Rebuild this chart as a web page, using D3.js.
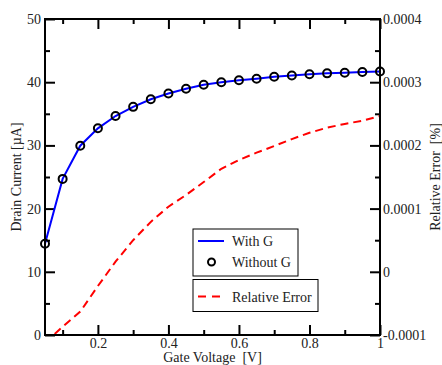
<!DOCTYPE html>
<html>
<head>
<meta charset="utf-8">
<script src="https://cdn.jsdelivr.net/npm/d3@7"></script>
<style>
  body { margin: 0; background: #fff; }
  svg { display: block; }
  svg text { font-family: "Liberation Serif", "Times New Roman", Times, "DejaVu Serif", serif; }
  .tick-label { font-size: 14px; fill: #222; }
  .title { font-size: 14px; fill: #222; }
</style>
</head>
<body>
<div id="chart"></div>
<script>
// gate voltage sweep
const gateVoltage = [0.05, 0.1, 0.15, 0.2, 0.25, 0.3, 0.35, 0.4, 0.45, 0.5,
  0.55, 0.6, 0.65, 0.7, 0.75, 0.8, 0.85, 0.9, 0.95, 1.0];
const currentWithG = [14.45, 24.7, 29.95, 32.7, 34.65, 36.1, 37.3, 38.2, 38.95, 39.6,
  40.0, 40.3, 40.55, 40.85, 41.05, 41.25, 41.4, 41.5, 41.6, 41.7];
const currentWithoutG = currentWithG.slice();
const relativeError = [-0.000112, -0.000087, -0.000063, -0.0000225, 0.000016, 0.00005, 0.000079, 0.000103, 0.0001215, 0.000142,
  0.000163, 0.000177, 0.0001885, 0.000199, 0.00021, 0.00022, 0.000228, 0.000234, 0.000239, 0.0002465];

const xTicks = [0.2, 0.4, 0.6, 0.8, 1];
const xMinor = [0.1, 0.3, 0.5, 0.7, 0.9];
const yTicks = [0, 10, 20, 30, 40, 50];
const yMinor = [5, 15, 25, 35, 45];
const y2Ticks = [-0.0001, 0, 0.0001, 0.0002, 0.0003, 0.0004];
const y2Minor = [-0.00005, 0.00005, 0.00015, 0.00025, 0.00035];
const y2Labels = ['-0.0001', '0', '0.0001', '0.0002', '0.0003', '0.0004'];

const SERIF = 'Liberation Serif, Times New Roman, DejaVu Serif, serif';
const W = 442, H = 365;
const margin = { top: 19, right: 62, bottom: 30, left: 45 };
const width = W - margin.left - margin.right;
const height = H - margin.top - margin.bottom;

const svg = d3.select('#chart').append('svg')
  .attr('width', W)
  .attr('height', H)
  .attr('font-family', SERIF);

const g = svg.append('g')
  .attr('transform', `translate(${margin.left}, ${margin.top})`);

const x = d3.scaleLinear().domain([0.05, 1]).range([0, width]);
const y = d3.scaleLinear().domain([0, 50]).range([height, 0]);
const y2 = d3.scaleLinear().domain([-0.0001, 0.0004]).range([height, 0]);

g.append('clipPath').attr('id', 'clip')
  .append('rect').attr('width', width).attr('height', height);

// axes with inward ticks, mirrored on the opposite side
function styleAxis(sel) {
  sel.attr('font-family', SERIF).attr('font-size', 14);
  sel.select('.domain').remove();
  sel.selectAll('.tick line').attr('stroke', '#000').attr('stroke-width', 2);
  sel.selectAll('.tick text').attr('class', 'tick-label').attr('fill', '#222');
}

g.append('g').attr('transform', `translate(0, ${height})`)
  .call(d3.axisBottom(x).tickValues(xTicks).tickSizeInner(-10).tickSizeOuter(0).tickPadding(3).tickFormat(d => d === 1 ? '1' : d3.format('.1f')(d)))
  .call(styleAxis);
g.append('g').attr('transform', `translate(0, ${height})`)
  .call(d3.axisBottom(x).tickValues(xMinor).tickSizeInner(-5).tickSizeOuter(0).tickFormat(''))
  .call(styleAxis);
g.append('g')
  .call(d3.axisTop(x).tickValues(xTicks).tickSizeInner(-10).tickSizeOuter(0).tickFormat(''))
  .call(styleAxis);
g.append('g')
  .call(d3.axisTop(x).tickValues(xMinor).tickSizeInner(-5).tickSizeOuter(0).tickFormat(''))
  .call(styleAxis);

g.append('g')
  .call(d3.axisLeft(y).tickValues(yTicks).tickSizeInner(-10).tickSizeOuter(0).tickPadding(4))
  .call(styleAxis);
g.append('g')
  .call(d3.axisLeft(y).tickValues(yMinor).tickSizeInner(-5).tickSizeOuter(0).tickFormat(''))
  .call(styleAxis);

g.append('g').attr('transform', `translate(${width}, 0)`)
  .call(d3.axisRight(y2).tickValues(y2Ticks).tickSizeInner(-10).tickSizeOuter(0).tickPadding(3)
    .tickFormat((d, i) => y2Labels[i]))
  .call(styleAxis);
g.append('g').attr('transform', `translate(${width}, 0)`)
  .call(d3.axisRight(y2).tickValues(y2Minor).tickSizeInner(-5).tickSizeOuter(0).tickFormat(''))
  .call(styleAxis);

// data
const plot = g.append('g').attr('clip-path', 'url(#clip)');

plot.append('path')
  .datum(gateVoltage.map((v, i) => [v, relativeError[i]]))
  .attr('fill', 'none')
  .attr('stroke', '#ff0000')
  .attr('stroke-width', 2)
  .attr('stroke-dasharray', '8,5')
  .attr('d', d3.line().x(d => x(d[0])).y(d => y2(d[1])));

g.append('path')
  .datum(gateVoltage.map((v, i) => [v, currentWithG[i]]))
  .attr('fill', 'none')
  .attr('stroke', '#0000ff')
  .attr('stroke-width', 2)
  .attr('d', d3.line().x(d => x(d[0])).y(d => y(d[1])));

g.selectAll('.pt')
  .data(gateVoltage.map((v, i) => [v, currentWithoutG[i]]))
  .enter().append('circle')
  .attr('class', 'pt')
  .attr('cx', d => x(d[0]))
  .attr('cy', d => y(d[1]))
  .attr('r', 4)
  .attr('fill', 'none')
  .attr('stroke', '#000')
  .attr('stroke-width', 2);

// frame
g.append('rect')
  .attr('width', width).attr('height', height)
  .attr('fill', 'none').attr('stroke', '#000').attr('stroke-width', 2);

// titles
svg.append('text').attr('class', 'title')
  .attr('x', margin.left + width / 2).attr('y', 361.5)
  .attr('text-anchor', 'middle')
  .text('Gate Voltage\u00a0 [V]');
svg.append('text').attr('class', 'title')
  .attr('transform', `translate(21, ${margin.top + height / 2}) rotate(-90)`)
  .attr('text-anchor', 'middle')
  .text('Drain Current [\u00b5A]');
svg.append('text').attr('class', 'title')
  .attr('transform', `translate(440, ${margin.top + height / 2}) rotate(-90)`)
  .attr('text-anchor', 'middle')
  .text('Relative Error\u00a0 [%]');

// legends
const leg1 = svg.append('g').attr('transform', 'translate(193, 229)');
leg1.append('rect').attr('width', 105).attr('height', 47)
  .attr('fill', '#fff').attr('stroke', '#000').attr('stroke-width', 1);
leg1.append('line').attr('x1', 5).attr('x2', 31).attr('y1', 12).attr('y2', 12)
  .attr('stroke', '#0000ff').attr('stroke-width', 2);
leg1.append('text').attr('class', 'title').attr('x', 39).attr('y', 17).text('With G');
leg1.append('circle').attr('cx', 18.5).attr('cy', 33).attr('r', 3.5)
  .attr('fill', 'none').attr('stroke', '#000').attr('stroke-width', 2);
leg1.append('text').attr('class', 'title').attr('x', 39).attr('y', 38).text('Without G');

const leg2 = svg.append('g').attr('transform', 'translate(193, 279.5)');
leg2.append('rect').attr('width', 125).attr('height', 32)
  .attr('fill', '#fff').attr('stroke', '#000').attr('stroke-width', 1);
leg2.append('line').attr('x1', 5).attr('x2', 31).attr('y1', 17).attr('y2', 17)
  .attr('stroke', '#ff0000').attr('stroke-width', 2).attr('stroke-dasharray', '8,6');
leg2.append('text').attr('class', 'title').attr('x', 39).attr('y', 22).text('Relative Error');
</script>
</body>
</html>
